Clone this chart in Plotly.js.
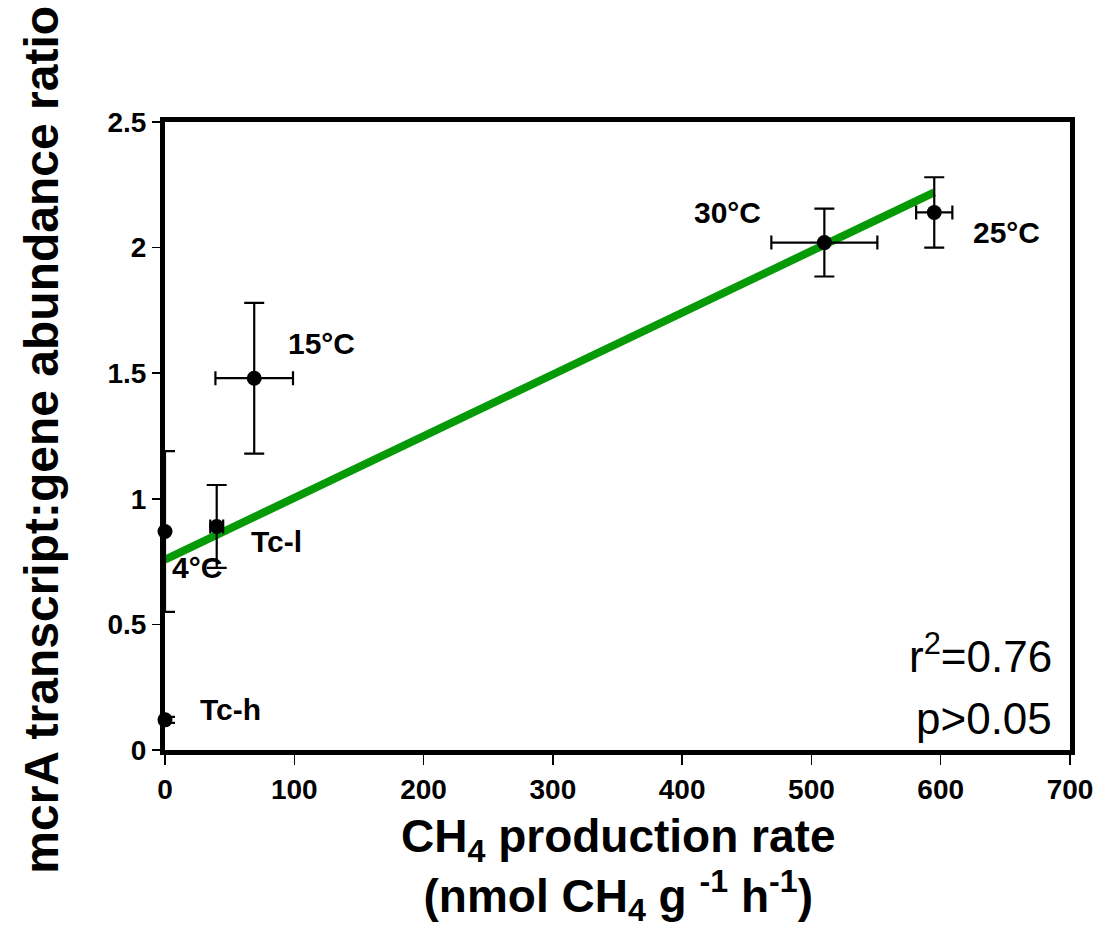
<!DOCTYPE html>
<html>
<head>
<meta charset="utf-8">
<script src="https://cdn.plot.ly/plotly-3.0.1.min.js"></script>
<style>html,body{margin:0;padding:0;background:#fff;}#chart{width:1106px;height:927px;}</style>
</head>
<body>
<div id="chart"></div>
<script>
// Data
var labels = ["4°C", "Tc-l", "15°C", "30°C", "25°C", "Tc-h"];
var rate = [0, 40, 69, 510, 595, 0];
var rateErr = [0, 5, 30, 41, 14, 0];
var ratio = [0.87, 0.89, 1.48, 2.02, 2.14, 0.12];
var ratioErr = [0.32, 0.165, 0.30, 0.135, 0.14, 0.012];
var fitX = [0, 595];
var fitY = [0.758, 2.22];
var labelX = [25, 86, 121, 435, 651, 51];
var labelY = [0.726, 0.829, 1.619, 2.141, 2.06, 0.163];
var xTicks = [0, 100, 200, 300, 400, 500, 600, 700];
var yTicks = [0, 0.5, 1, 1.5, 2, 2.5];
var yTickText = ["0", "0.5", "1", "1.5", "2", "2.5"];
var statsText = ["r<sup>2</sup>=0.76", "p>0.05"];
var xTitle = "CH<sub>4</sub> production rate<br>(nmol CH<sub>4</sub> g <sup>-1</sup> h<sup>-1</sup>)";
var yTitle = "mcrA transcript:gene abundance ratio";

var F = "Arial, 'Liberation Sans', sans-serif";

var fit = {
  x: fitX, y: fitY, mode: "lines", type: "scatter",
  line: {color: "#079a07", width: 8}, hoverinfo: "skip", showlegend: false
};
var pts = {
  x: rate, y: ratio, mode: "markers", type: "scatter", cliponaxis: false,
  marker: {color: "#000", size: 15},
  error_x: {type: "data", array: rateErr, visible: true, color: "#000", thickness: 2.2, width: 7},
  error_y: {type: "data", array: ratioErr, visible: true, color: "#000", thickness: 2.2, width: 10},
  showlegend: false
};

var ann = labels.map(function (t, i) {
  return {x: labelX[i], y: labelY[i], xref: "x", yref: "y", text: t, showarrow: false,
    font: {family: F, size: 30, color: "#000", weight: "bold"}};
});
ann.push({xref: "paper", yref: "paper", x: 0.982, y: 0.153, xanchor: "right", yanchor: "middle",
  text: statsText[0], showarrow: false, font: {family: F, size: 44, color: "#000"}});
ann.push({xref: "paper", yref: "paper", x: 0.982, y: 0.05, xanchor: "right", yanchor: "middle",
  text: statsText[1], showarrow: false, font: {family: F, size: 44, color: "#000"}});
// axis titles (placed as annotations to match reference positions)
ann.push({xref: "paper", yref: "paper", x: -0.136, y: 0.494, xanchor: "center", yanchor: "middle",
  textangle: -90, text: yTitle, showarrow: false,
  font: {family: F, size: 48, color: "#000", weight: "bold"}});
ann.push({xref: "paper", yref: "paper", x: 0.5, y: -0.189, xanchor: "center", yanchor: "middle",
  text: xTitle, showarrow: false,
  font: {family: F, size: 46, color: "#000", weight: "bold"}});

var layout = {
  width: 1106, height: 927,
  margin: {l: 165, r: 36, t: 122, b: 177},
  paper_bgcolor: "#fff", plot_bgcolor: "#fff",
  font: {family: F, color: "#000"},
  xaxis: {
    range: [0, 700], tickvals: xTicks, ticktext: xTicks.map(String),
    showgrid: false, zeroline: false, showline: true, linecolor: "#000", linewidth: 5, mirror: true,
    ticks: "outside", ticklen: 10, tickwidth: 1.5, tickcolor: "#000",
    tickfont: {family: F, size: 28, weight: "bold"}
  },
  yaxis: {
    range: [0, 2.5], tickvals: yTicks, ticktext: yTickText,
    showgrid: false, zeroline: false, showline: true, linecolor: "#000", linewidth: 5, mirror: true,
    ticks: "outside", ticklen: 8, tickwidth: 1.5, tickcolor: "#000",
    tickfont: {family: F, size: 28, weight: "bold"}
  },
  annotations: ann
};

Plotly.newPlot("chart", [fit, pts], layout, {displayModeBar: false, staticPlot: true});
</script>
</body>
</html>
